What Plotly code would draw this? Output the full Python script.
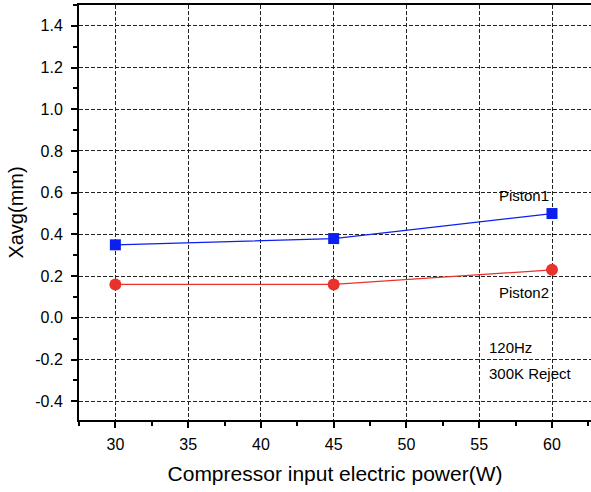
import plotly.graph_objects as go

power = [30, 45, 60]
piston1 = [0.35, 0.38, 0.50]
piston2 = [0.16, 0.16, 0.23]

fig = go.Figure()
fig.add_trace(go.Scatter(x=power, y=piston1, mode="lines+markers", name="Piston1",
                         line=dict(color="#0a1ff0", width=1.3),
                         marker=dict(symbol="square", size=11, color="#0a1ff0")))
fig.add_trace(go.Scatter(x=power, y=piston2, mode="lines+markers", name="Piston2",
                         line=dict(color="#e8322b", width=1.3),
                         marker=dict(symbol="circle", size=12, color="#e8322b")))

font = "Liberation Sans, Arial, sans-serif"
fig.update_layout(
    width=591, height=492,
    margin=dict(l=79, r=0, t=5, b=72),
    paper_bgcolor="white", plot_bgcolor="white",
    showlegend=False,
    font=dict(family=font, color="black"),
    xaxis=dict(range=[27.5, 62.68], tickvals=[30, 35, 40, 45, 50, 55, 60],
               showline=True, linecolor="black", linewidth=2, mirror=True,
               ticks="outside", ticklen=6, tickwidth=1.5, tickcolor="black",
               minor=dict(dtick=2.5, tick0=27.5, ticks="outside", ticklen=4, tickcolor="black", showgrid=False),
               showgrid=True, gridcolor="#222222", gridwidth=1, griddash="4px,2px",
               zeroline=False, tickfont=dict(size=16), ticklabelstandoff=3,
               title=dict(text="Compressor input electric power(W)", font=dict(size=21), standoff=14)),
    yaxis=dict(range=[-0.49, 1.5], tickvals=[-0.4, -0.2, 0.0, 0.2, 0.4, 0.6, 0.8, 1.0, 1.2, 1.4],
               ticktext=["-0.4", "-0.2", "0.0", "0.2", "0.4", "0.6", "0.8", "1.0", "1.2", "1.4"],
               showline=True, linecolor="black", linewidth=2,
               ticks="outside", ticklen=6, tickwidth=1.5, tickcolor="black",
               minor=dict(dtick=0.1, tick0=0, ticks="outside", ticklen=4, tickcolor="black", showgrid=False),
               showgrid=True, gridcolor="#222222", gridwidth=1, griddash="4px,2px",
               zeroline=False, tickfont=dict(size=16), ticklabelstandoff=5,
               title=dict(text="Xavg(mm)", font=dict(size=20), standoff=6)),
)

ann = dict(showarrow=False, font=dict(size=15, family=font, color="black"))
fig.add_annotation(x=56.2, y=0.585, text="Piston1", xanchor="left", **ann)
fig.add_annotation(x=56.2, y=0.12, text="Piston2", xanchor="left", **ann)
fig.add_annotation(x=55.5, y=-0.14, text="120Hz", xanchor="left", **ann)
fig.add_annotation(x=55.5, y=-0.265, text="300K Reject", xanchor="left", **ann)

fig.write_html("out.html")
